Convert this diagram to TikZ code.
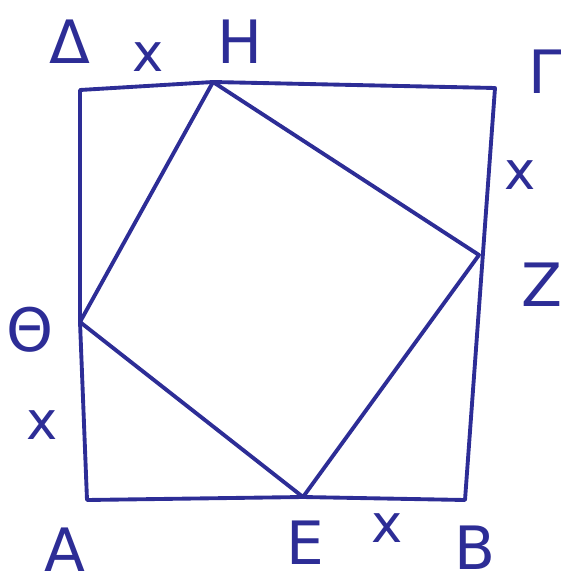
\documentclass[tikz,border=0pt]{standalone}
\usepackage{fontspec}
\setmainfont{DejaVu Sans}
\definecolor{ink}{RGB}{45,45,150}
\begin{document}
\begin{tikzpicture}[x=0.01cm,y=-0.01cm,
  edge/.style={draw=ink,line width=1.1pt,line cap=round,line join=round},
  lbl/.style={text=ink,font=\fontsize{17}{19}\selectfont,inner sep=0pt},
  xlbl/.style={text=ink,font=\fontsize{15}{17}\selectfont,inner sep=0pt}]
\useasboundingbox (0,0) rectangle (570,585);
\coordinate (D) at (80,90);
\coordinate (G) at (495,88);
\coordinate (B) at (465,500);
\coordinate (A) at (87,500);
\coordinate (H) at (213,82);
\coordinate (Z) at (479,255);
\coordinate (E) at (303,497);
\coordinate (T) at (80,322);
\draw[edge] (D) -- (H) -- (G) -- (B) -- (E) -- (A) -- (T) -- cycle;
\draw[edge] (H) -- (Z) -- (E) -- (T) -- cycle;
\node[lbl] (lD) at (70,42) {Δ};
\node[xlbl] (x1) at (148,57) {x};
\node[lbl] (lH) at (240,42) {Η};
\node[lbl] (lG) at (545,72) {Γ};
\node[xlbl] (x2) at (520,175) {x};
\node[lbl] (lZ) at (542,285) {Ζ};
\node[lbl] (lT) at (30,330) {Θ};
\node[xlbl] (x3) at (42,425) {x};
\node[lbl] (lA) at (65,550) {Α};
\node[lbl] (lE) at (305,543) {Ε};
\node[xlbl] (x4) at (387,528) {x};
\node[lbl] (lB) at (475,548) {Β};
\end{tikzpicture}
\end{document}
